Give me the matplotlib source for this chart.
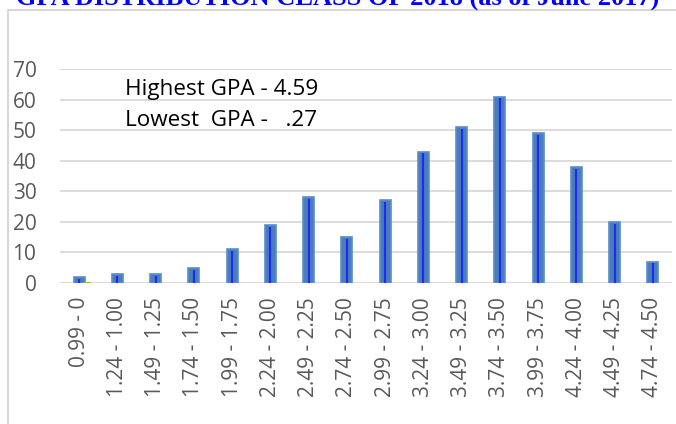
import numpy as np
import matplotlib.pyplot as plt
from matplotlib.patches import Rectangle

# GPA ranges and number of students
ranges = ["0.99 - 0", "1.24 - 1.00", "1.49 - 1.25", "1.74 - 1.50", "1.99 - 1.75",
          "2.24 - 2.00", "2.49 - 2.25", "2.74 - 2.50", "2.99 - 2.75", "3.24 - 3.00",
          "3.49 - 3.25", "3.74 - 3.50", "3.99 - 3.75", "4.24 - 4.00", "4.49 - 4.25",
          "4.74 - 4.50"]
counts = [2, 3, 3, 5, 11, 19, 28, 15, 27, 43, 51, 61, 49, 38, 20, 7]
second = [0.3] + [0] * 15
yticks = [0, 10, 20, 30, 40, 50, 60, 70]

fig = plt.figure(figsize=(6.76, 4.24), dpi=100)
plt.rcParams['font.family'] = ['Open Sans', 'DejaVu Sans']

# outer frame of the chart
fig.patches.append(Rectangle((8 / 676, -0.1), 1.2, 1 - 10 / 424 + 0.1, transform=fig.transFigure,
                             fill=False, edgecolor='#d0d0d0', linewidth=1.2))

# title is cut off at the top, as in the source image
fig.text(0.5, 1 - 5 / 424, "GPA DISTRIBUTION CLASS OF 2018 (as of June 2017)",
         ha='center', va='baseline', fontsize=19, fontweight='bold',
         color='#0000ff', family='Liberation Serif')

ax = fig.add_axes([60 / 676, 1 - 283 / 424, 612 / 676, (283 - 69) / 424])
x = np.arange(len(ranges))
ax.bar(x, counts, width=0.29, color='#4a7ebb', edgecolor='#5b8dcc', linewidth=1.2, zorder=3)
ax.vlines(x, 0, np.array(counts) - 0.6, color='#1f2bf0', linewidth=1.6, zorder=4)
ax.bar(x + 0.23, second, width=0.18, color='#9bbb59', zorder=3)

ax.set_xlim(-0.5, len(ranges) - 0.5)
ax.set_ylim(0, 70)
ax.set_yticks(yticks)
ax.set_xticks(x)
ax.set_xticklabels(ranges, rotation=90, fontsize=15, color='#595959')
ax.tick_params(axis='y', labelsize=15, labelcolor='#595959', length=0, pad=17)
ax.tick_params(axis='x', length=0, pad=10)
ax.grid(axis='y', color='#d9d9d9', linewidth=1.3, zorder=0)
for s in ax.spines.values():
    s.set_visible(False)

ax.text(1.2, 63.2, "Highest GPA - 4.59", fontsize=16.2, va='center', color='black')
ax.text(1.2, 53.3, "Lowest  GPA -   .27", fontsize=16.2, va='center', color='black')

fig.savefig("out.png", dpi=100)
